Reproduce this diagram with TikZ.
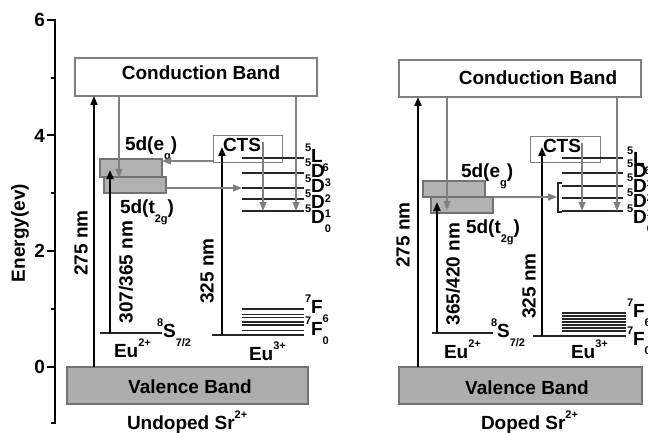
\documentclass[tikz,border=0pt]{standalone}
\usepackage{fontspec}
\setmainfont{Liberation Sans}
\usetikzlibrary{arrows.meta}
\newcommand\spx[1]{\raisebox{0.56em}{\fontsize{11}{11}\selectfont #1}}
\newcommand\sbx[1]{\raisebox{-0.48em}{\fontsize{11}{11}\selectfont #1}}
\begin{document}
\begin{tikzpicture}[x=1pt,y=-1pt,
  every node/.style={font=\bfseries\fontsize{19}{21}\selectfont, inner sep=0pt, outer sep=0pt},
  cbbox/.style={draw=black!50, line width=1.2pt, fill=white},
  vbbox/.style={draw=black!55, line width=1.2pt, fill=black!32},
  dbox/.style={draw=black!55, line width=1.2pt, fill=black!30},
  ctsbox/.style={draw=black!50, line width=1pt},
  lvl/.style={draw=black!85, line width=1.7pt},
  blk/.style={draw=black, line width=2pt, -{Triangle[length=9pt,width=7pt]}},
  gry/.style={draw=black!50, line width=1.4pt, -{Triangle[length=9pt,width=7pt]}},
  lab/.style={anchor=base west},
  rot/.style={rotate=90}]
\useasboundingbox (0,0) rectangle (648,433);

% ---------- axis ----------
\coordinate (axT) at (55,19);
\coordinate (axB) at (55,424);
\draw[line width=2.5pt] (axT) -- (axB);
\foreach \yy/\tt in {20/6,135.5/4,251/2,367/0}{
  \draw[line width=2pt] (47,\yy) -- (55,\yy);
  \node[anchor=east] at (45,\yy) {\tt};
}
\foreach \yy in {78,193,309,423}{
  \draw[line width=1.6pt] (51,\yy) -- (55,\yy);
}
\node[rot] at (20,233) {Energy(ev)};

% ================= LEFT PANEL =================
\node[cbbox, minimum width=242pt, minimum height=38pt] (cbL) at (196,77) {};
\node at (201,73) {Conduction Band};
\node[vbbox, minimum width=241pt, minimum height=37pt] (vbL) at (187.5,385.5) {};
\node at (190,387) {Valence Band};
\node[lab] (undoped) at (127,429) {Undoped Sr\spx{2+}};

\node[dbox, minimum width=62pt, minimum height=16pt] (tL) at (135,185) {};
\node[dbox, minimum width=62pt, minimum height=18pt] (eL) at (131,168) {};
\node[lab] at (125,150) {5d(e\sbx{g})};
\node[lab] at (120,213) {5d(t\sbx{2g})};

\node[ctsbox, minimum width=69pt, minimum height=27pt] (ctsL) at (247.5,149.5) {};
\node[lab] at (223,152) {CTS};

% Eu2+ ground level
\coordinate (sLa) at (100,333);
\coordinate (sLb) at (162,333);
\draw[lvl] (sLa) -- (sLb);
\node[lab] at (157,337) {\spx{8}S\sbx{7/2}};
\node[lab] at (114,357) {Eu\spx{2+}};

% Eu3+ levels
\foreach \yy in {158,173,188,199,211}{ \draw[lvl] (242,\yy) -- (304,\yy); }
\foreach \yy/\ll/\nn in {162/L/6,177/D/3,193/D/2,208/D/1,223/D/0}{
  \node[lab] at (305,\yy) {\spx{5}\ll\sbx{\nn}};
}
\foreach \yy in {309,314.5,317.5,322,325,330.5}{ \draw[lvl] (242,\yy) -- (304,\yy); }
\coordinate (fLa) at (212,335);
\coordinate (fLb) at (304,335);
\draw[lvl] (fLa) -- (fLb);
\node[lab] at (305,313) {\spx{7}F\sbx{6}};
\node[lab] at (305,335) {\spx{7}F\sbx{0}};
\node[lab] at (249,360) {Eu\spx{3+}};

% black arrows
\coordinate (xL1) at (94,0);
\draw[blk] (xL1 |- vbL.north) -- (xL1 |- cbL.south);
\node[rot] at (81,243) {275 nm};
\coordinate (xL2) at (110,0);
\coordinate (hL2) at (110,170);
\draw[blk] (xL2 |- sLa) -- (hL2);
\node[rot] at (126,272) {307/365 nm};
\coordinate (xL3) at (222,0);
\coordinate (hL3) at (222,147);
\draw[blk] (xL3 |- fLa) -- (hL3);
\node[rot] at (207,271) {325 nm};

% gray arrows
\coordinate (gL1) at (119,0);
\draw[gry] (gL1 |- cbL.south) -- (119,178);
\coordinate (gL2) at (0,161);
\draw[gry] (gL2 -| ctsL.west) -- (gL2 -| eL.east);
\coordinate (gL3) at (0,188);
\draw[gry] (gL3 -| tL.east) -- (242,188);
\draw[gry] (263,142) -- (263,211);
\coordinate (gL5) at (296,0);
\draw[gry] (gL5 |- cbL.south) -- (296,211);

% ================= RIGHT PANEL =================
\node[cbbox, minimum width=242pt, minimum height=37pt] (cbR) at (520,78.5) {};
\node at (538,78) {Conduction Band};
\node[vbbox, minimum width=243pt, minimum height=37pt] (vbR) at (520.5,385.5) {};
\node at (527,388) {Valence Band};
\node[lab] (doped) at (481,429) {Doped Sr\spx{2+}};

\node[dbox, minimum width=62pt, minimum height=16pt] (tR) at (462,205) {};
\node[dbox, minimum width=62pt, minimum height=16pt] (eR) at (454,189) {};
\node[lab] at (461,177) {5d(e\sbx{g})};
\node[lab] at (466,233) {5d(t\sbx{2g})};

\node[ctsbox, minimum width=70pt, minimum height=26pt] (ctsR) at (565,150) {};
\node[lab] at (543,153) {CTS};

\coordinate (sRa) at (432,333);
\coordinate (sRb) at (493,333);
\draw[lvl] (sRa) -- (sRb);
\node[lab] at (491,337) {\spx{8}S\sbx{7/2}};
\node[lab] at (444,358) {Eu\spx{2+}};

\foreach \yy in {158,173,186,198,211}{ \draw[lvl] (562,\yy) -- (623,\yy); }
\draw[lvl, line width=1.2pt] (562,183) -- (558,183) -- (558,212) -- (562,212);
\foreach \yy/\ll/\nn in {165/L/6,178/D/3,192/D/2,207/D/1,223/D/0}{
  \node[lab] at (627,\yy) {\spx{5}\ll\sbx{\nn}};
}
\foreach \yy in {313,316,319,322,325,328,331}{ \draw[lvl] (562,\yy) -- (626,\yy); }
\coordinate (fRa) at (533,336);
\coordinate (fRb) at (626,336);
\draw[lvl] (fRa) -- (fRb);
\node[lab] at (627,317) {\spx{7}F\sbx{6}};
\node[lab] at (627,345) {\spx{7}F\sbx{0}};
\node[lab] at (571,358) {Eu\spx{3+}};

\coordinate (xR1) at (418,0);
\draw[blk] (xR1 |- vbR.north) -- (xR1 |- cbR.south);
\node[rot] at (403,235) {275 nm};
\coordinate (xR2) at (437,0);
\draw[blk] (xR2 |- sRa) -- (437,202);
\node[rot] at (453,274) {365/420 nm};
\coordinate (xR3) at (542,0);
\draw[blk] (xR3 |- fRa) -- (542,147);
\node[rot] at (529,286) {325 nm};

\coordinate (gR1) at (447,0);
\draw[gry] (gR1 |- cbR.south) -- (447,210);
\coordinate (gR2) at (0,197);
\draw[gry] (gR2 -| tR.east) -- (557,197);
\draw[gry] (582,143) -- (582,211);
\coordinate (gR4) at (617,0);
\draw[gry] (gR4 |- cbR.south) -- (617,211);
\end{tikzpicture}
\end{document}
